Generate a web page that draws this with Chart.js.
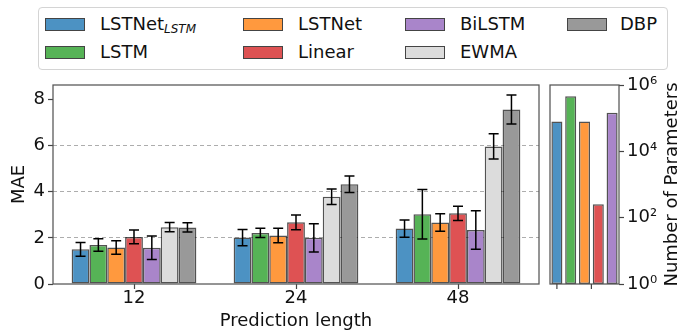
<!DOCTYPE html>
<html>
<head>
<meta charset="utf-8">
<script src="https://cdn.jsdelivr.net/npm/chart.js@4.4.1/dist/chart.umd.min.js"></script>
<style>
  body { margin: 0; background: #fff; }
  #wrap { position: relative; width: 680px; height: 331px; overflow: hidden; font-family: 'DejaVu Sans', sans-serif; color: #111; }
  #legend { position: absolute; left: 38px; top: 7px; width: 628px; height: 61px; border: 1px solid #d4d4d4; border-radius: 4px; }
  .patch { position: absolute; width: 38px; height: 11px; border: 1px solid #444; }
  .item { position: absolute; font-size: 18px; line-height: 18px; white-space: nowrap; }
  .item sub { font-size: 12px; font-style: italic; vertical-align: -3px; line-height: 0; }
  canvas { position: absolute; }
</style>
</head>
<body>
<div id="wrap">
  <div id="legend"></div>
  <canvas id="mae" width="545" height="256" style="left:0;top:75px"></canvas>
  <canvas id="params" width="135" height="256" style="left:545px;top:75px"></canvas>
</div>
<script>
// prediction horizons and models
const horizons = ['12', '24', '48'];
const models = ['LSTNet_LSTM', 'LSTM', 'LSTNet', 'Linear', 'BiLSTM', 'EWMA', 'DBP'];

// MAE per model (one value per horizon) and its error bar half-length
const maeLSTNetLSTM = [1.50, 2.01, 2.40];
const maeLSTM       = [1.69, 2.21, 3.02];
const maeLSTNet     = [1.58, 2.10, 2.66];
const maeLinear     = [2.04, 2.67, 3.06];
const maeBiLSTM     = [1.57, 2.00, 2.34];
const maeEWMA       = [2.46, 3.78, 5.96];
const maeDBP        = [2.45, 4.32, 7.56];

const errLSTNetLSTM = [0.30, 0.35, 0.37];
const errLSTM       = [0.27, 0.20, 1.07];
const errLSTNet     = [0.29, 0.31, 0.38];
const errLinear     = [0.30, 0.32, 0.31];
const errBiLSTM     = [0.51, 0.61, 0.83];
const errEWMA       = [0.20, 0.34, 0.55];
const errDBP        = [0.20, 0.36, 0.63];

// parameter counts (right panel)
const paramModels = ['LSTNet_LSTM', 'LSTM', 'LSTNet', 'Linear', 'BiLSTM'];
const paramCounts = [80000, 460000, 80000, 256, 146000];
const paramTicks = [1, 1e2, 1e4, 1e6];
const paramTickLabels = ['10⁰', '10²', '10⁴', '10⁶'];

const maeSeries = [maeLSTNetLSTM, maeLSTM, maeLSTNet, maeLinear, maeBiLSTM, maeEWMA, maeDBP];
const errSeries = [errLSTNetLSTM, errLSTM, errLSTNet, errLinear, errBiLSTM, errEWMA, errDBP];
const colors = ['#4c92c3', '#56b356', '#ff993e', '#de5253', '#a985ca', '#dcdcdc', '#999999'];
const edge = 'rgba(0,0,0,0.68)';

// legend (html so the subscript stays real text)
const legendEl = document.getElementById('wrap');
const legendCols = [[45, 100], [243, 298], [405, 460], [567, 620]];
models.forEach((m, i) => {
  const col = legendCols[Math.floor(i / 2)];
  const rowY = i % 2 === 0 ? 24 : 52;
  const p = document.createElement('div');
  p.className = 'patch';
  p.style.left = col[0] + 'px';
  p.style.top = (rowY - 6.5) + 'px';
  p.style.background = colors[i];
  legendEl.appendChild(p);
  const t = document.createElement('div');
  t.className = 'item';
  t.style.left = col[1] + 'px';
  t.style.top = (rowY - 8.6) + 'px';
  t.innerHTML = m === 'LSTNet_LSTM' ? 'LSTNet<sub>LSTM</sub>' : m;
  legendEl.appendChild(t);
});

Chart.defaults.font.family = "'DejaVu Sans', sans-serif";
Chart.defaults.color = '#111';

// scales should not push the plot area around for label overhang
function noOverhang(s) {
  s.paddingTop = 0; s.paddingBottom = 0; s.paddingLeft = 0; s.paddingRight = 0;
}

const frame = {
  id: 'frame',
  afterDraw(chart) {
    const { ctx, chartArea: a } = chart;
    ctx.save();
    ctx.strokeStyle = '#555';
    ctx.lineWidth = 1.25;
    ctx.strokeRect(a.left, a.top, a.right - a.left, a.bottom - a.top);
    ctx.restore();
  }
};

const errorBars = {
  id: 'errorBars',
  afterDatasetsDraw(chart) {
    const ctx = chart.ctx, y = chart.scales.y;
    ctx.save();
    ctx.strokeStyle = '#000';
    ctx.lineWidth = 1.5;
    chart.data.datasets.forEach((ds, i) => {
      chart.getDatasetMeta(i).data.forEach((bar, j) => {
        const v = ds.data[j], e = ds.errors[j];
        const top = y.getPixelForValue(v + e), bot = y.getPixelForValue(v - e);
        ctx.beginPath();
        ctx.moveTo(bar.x, top); ctx.lineTo(bar.x, bot);
        ctx.moveTo(bar.x - 5, top); ctx.lineTo(bar.x + 5, top);
        ctx.moveTo(bar.x - 5, bot); ctx.lineTo(bar.x + 5, bot);
        ctx.stroke();
      });
    });
    ctx.restore();
  }
};

new Chart(document.getElementById('mae'), {
  type: 'bar',
  data: {
    labels: horizons,
    datasets: models.map((m, i) => ({
      label: m,
      data: maeSeries[i],
      errors: errSeries[i],
      backgroundColor: colors[i],
      borderColor: edge,
      borderWidth: 1.5,
      borderSkipped: false,
      categoryPercentage: 0.77,
      barPercentage: 1
    }))
  },
  options: {
    responsive: false,
    animation: false,
    devicePixelRatio: 1,
    layout: { padding: { top: 10, right: 6, left: 0, bottom: 0 } },
    plugins: { legend: { display: false }, tooltip: { enabled: false } },
    scales: {
      x: {
        grid: { offset: false, drawOnChartArea: false, tickLength: 5, tickColor: '#444', tickWidth: 1.2 },
        border: { display: false },
        ticks: { font: { size: 18, lineHeight: 1 }, padding: 0 },
        title: { display: true, text: 'Prediction length', font: { size: 18, lineHeight: 1.1 }, padding: 0 },
        afterFit(s) { s.height = 47; noOverhang(s); }
      },
      y: {
        min: 0,
        max: 8.62,
        ticks: { stepSize: 2, includeBounds: false, font: { size: 18 }, padding: 3 },
        grid: {
          color: c => (c.tick && [2, 4, 6].includes(c.tick.value)) ? '#adadad' : 'rgba(0,0,0,0)',
          tickColor: '#444', tickLength: 5, tickWidth: 1.2, lineWidth: 1
        },
        border: { display: false, dash: [4, 3] },
        title: { display: true, text: 'MAE', font: { size: 18 }, padding: { top: 9 } },
        afterFit(s) { s.width = 53; noOverhang(s); }
      }
    }
  },
  plugins: [errorBars, frame]
});

const paramsExtras = {
  id: 'paramsExtras',
  afterDraw(chart) {
    const { ctx, chartArea: a, scales: { x } } = chart;
    ctx.save();
    ctx.strokeStyle = '#444';
    ctx.lineWidth = 1.2;
    [x.getPixelForValue(0), (x.getPixelForValue(2) + x.getPixelForValue(3)) / 2].forEach(px => {
      ctx.beginPath(); ctx.moveTo(px, a.bottom); ctx.lineTo(px, a.bottom + 5); ctx.stroke();
    });
    ctx.translate(chart.width - 7.5, (a.top + a.bottom) / 2);
    ctx.rotate(-Math.PI / 2);
    ctx.font = "18px 'DejaVu Sans', sans-serif";
    ctx.fillStyle = '#111';
    ctx.textAlign = 'center';
    ctx.textBaseline = 'middle';
    ctx.fillText('Number of Parameters', 0, 0);
    ctx.restore();
  }
};

new Chart(document.getElementById('params'), {
  type: 'bar',
  data: {
    labels: paramModels,
    datasets: [{
      data: paramCounts,
      backgroundColor: colors.slice(0, paramModels.length),
      borderColor: edge,
      borderWidth: 1.5,
      borderSkipped: false,
      categoryPercentage: 1,
      barPercentage: 0.8
    }]
  },
  options: {
    responsive: false,
    animation: false,
    devicePixelRatio: 1,
    layout: { padding: { top: 10, left: 5, right: 0, bottom: 0 } },
    plugins: { legend: { display: false }, tooltip: { enabled: false } },
    scales: {
      x: {
        ticks: { display: false },
        grid: { display: false },
        border: { display: false },
        afterFit(s) { s.height = 47; noOverhang(s); }
      },
      y: {
        type: 'logarithmic',
        position: 'right',
        min: 1,
        max: 1e6,
        afterBuildTicks(s) { s.ticks = paramTicks.map(v => ({ value: v })); },
        ticks: { callback: (v, i) => paramTickLabels[i], font: { size: 18 }, padding: 3 },
        grid: { drawOnChartArea: false, tickColor: '#444', tickLength: 5, tickWidth: 1.2 },
        border: { display: false },
        afterFit(s) { s.width = 61; noOverhang(s); }
      }
    }
  },
  plugins: [frame, paramsExtras]
});
</script>
</body>
</html>
